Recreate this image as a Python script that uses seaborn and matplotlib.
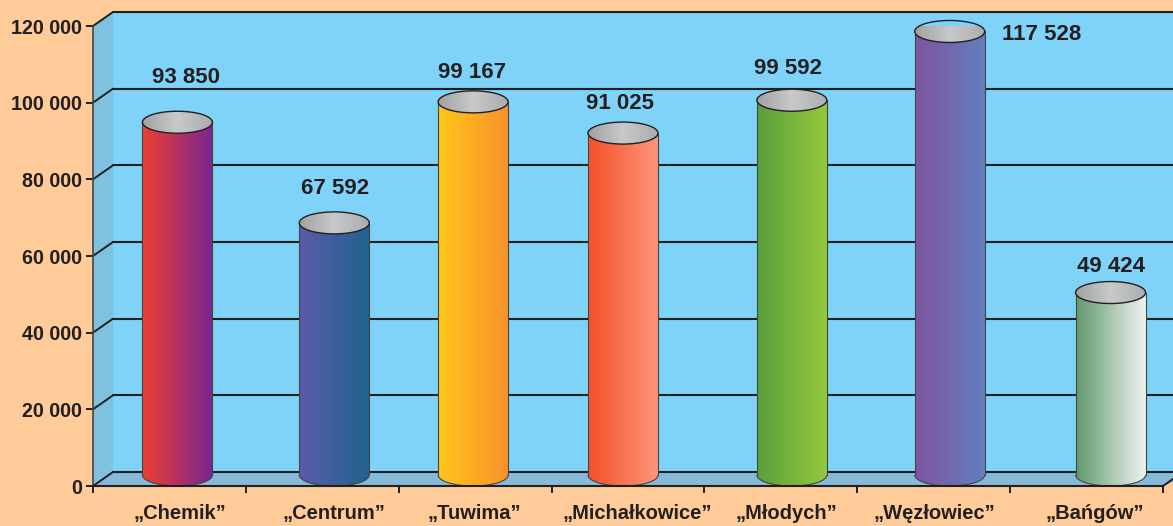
import numpy as np
import seaborn as sns
import matplotlib.pyplot as plt
from matplotlib.colors import LinearSegmentedColormap
from matplotlib.patches import Ellipse, Arc, Polygon
from matplotlib.transforms import Affine2D

# donnees
names = ["„Chemik”", "„Centrum”", "„Tuwima”", "„Michałkowice”", "„Młodych”", "„Węzłowiec”", "„Bańgów”"]
values = [93850, 67592, 99167, 91025, 99592, 117528, 49424]
value_labels = ["93 850", "67 592", "99 167", "91 025", "99 592", "117 528", "49 424"]
y_ticks = [0, 20000, 40000, 60000, 80000, 100000, 120000]
y_tick_labels = ["0", "20 000", "40 000", "60 000", "80 000", "100 000", "120 000"]

# couleurs et decalages (pixels)
gradients = [("#EE4030", "#7A2590"), ("#5B5BA8", "#22628F"), ("#FFC61A", "#F9922B"),
             ("#F4502A", "#FC9678"), ("#5A9E3C", "#95C93D"), ("#7D559F", "#637EBE"),
             ("#62996E", "#EEF3F0")]
bar_shift = [8, 12, -2, -5, 11, 16, 24]
name_shift = [10, 12, -1, 9, 6, 1, 8]
label_dx = [9, 1, -1, -3, -4, 92, 0]
label_dy = [45, 34, 29, 30, 32, -3, 26]

ink = "#231F20"
px_x = 1070 / 7
px_y = 460 / 120000

sns.set_theme(style="white")
plt.rcParams['font.family'] = ['Liberation Sans', 'DejaVu Sans']

fig = plt.figure(figsize=(11.73, 5.26), dpi=100, facecolor="#FFCC99")
ax = fig.add_axes([93 / 1173, 40 / 526, 1070 / 1173, 460 / 526], facecolor="none")

sns.barplot(x=names, y=values, ax=ax, width=70 / px_x, color="white", linewidth=0, zorder=3)
ax.set_xlim(-0.5, 6.5)
ax.set_ylim(0, 120000)

# murs et sol
back = ax.transData + Affine2D().translate(20, 14)
ax.add_patch(Polygon([(-0.5, 0), (6.6, 0), (6.6, 120000), (-0.5, 120000)], transform=back,
                     facecolor="#7FD3F9", edgecolor="none", clip_on=False, zorder=0))
x0 = -0.5
dx = 20 / px_x
dy = 14 / px_y
ax.add_patch(Polygon([(x0, 0), (x0 + dx, dy), (x0 + dx, 120000 + dy), (x0, 120000)],
                     facecolor="#7FC2E0", edgecolor="none", clip_on=False, zorder=0.5))
ax.add_patch(Polygon([(x0, 0), (x0 + dx, dy), (6.6 + dx, dy), (6.5, 0)],
                     facecolor="#85BAD9", edgecolor="none", clip_on=False, zorder=0.5))
for v in y_ticks:
    ax.plot([x0 + dx, 7.0], [v + dy, v + dy], color=ink, lw=1.5, clip_on=False, zorder=1)
    ax.plot([x0, x0 + dx], [v, v + dy], color=ink, lw=1.4, clip_on=False, zorder=1)
ax.plot([6.5, 6.5 + 10 / px_x], [0, 7 / px_y], color=ink, lw=1.4, clip_on=False, zorder=1)

# cylindres
lift_top = 4 / px_y
lift_base = 11 / px_y
cap_h = 22 / px_y
bar_w = 70 / px_x
cap_cmap = LinearSegmentedColormap.from_list("cap", ["#A2A2A2", "#C8C9CB", "#ABADB0"])
ramp = np.linspace(0, 1, 128).reshape(1, -1)

for i, patch in enumerate(ax.patches[:len(values)]):
    xc = i + bar_shift[i] / px_x
    top = values[i] + lift_top
    left, right = xc - bar_w / 2, xc + bar_w / 2
    patch.set_x(left)
    patch.set_y(lift_base)
    patch.set_height(top - lift_base)
    patch.set_facecolor("none")

    cmap = LinearSegmentedColormap.from_list("c%d" % i, gradients[i])
    body = ax.imshow(ramp, cmap=cmap, aspect="auto", extent=(left, right, lift_base, top), zorder=3)
    body.set_clip_path(patch)
    foot = Ellipse((xc, lift_base), bar_w, cap_h, facecolor="none", edgecolor="none", zorder=3)
    ax.add_patch(foot)
    low = ax.imshow(ramp, cmap=cmap, aspect="auto", extent=(left, right, 0, lift_base * 2), zorder=3)
    low.set_clip_path(foot)

    ax.plot([left, left], [lift_base, top], color="#444444", lw=0.8, zorder=4)
    ax.plot([right, right], [lift_base, top], color="#444444", lw=0.8, zorder=4)
    ax.add_patch(Arc((xc, lift_base), bar_w, cap_h, theta1=180, theta2=360, color="#444444", lw=0.8, zorder=4, clip_on=False))

    cap = Ellipse((xc, top), bar_w, cap_h, facecolor="none", edgecolor=ink, lw=1.0, zorder=6, clip_on=False)
    ax.add_patch(cap)
    face = ax.imshow(ramp, cmap=cap_cmap, aspect="auto", extent=(left, right, top - cap_h / 2, top + cap_h / 2), zorder=5)
    face.set_clip_path(cap)

    ax.annotate(value_labels[i], (xc, top), xytext=(label_dx[i], label_dy[i]), textcoords="offset pixels",
                ha="center", va="center", fontsize=16, fontweight="bold", color=ink, zorder=7, annotation_clip=False)

ax.set_xlim(-0.5, 6.5)
ax.set_ylim(0, 120000)

# axes
ax.set_yticks(y_ticks, y_tick_labels)
ax.set_xticks(np.arange(-0.5, 7), [""] * 8)
ax.set_xticks([i + s / px_x for i, s in enumerate(name_shift)], names, minor=True)
ax.tick_params(axis="y", length=5, width=1.4, color=ink, left=True, pad=3, labelsize=14.2, labelcolor=ink)
ax.tick_params(axis="x", which="major", length=5, width=1.4, color=ink, bottom=True)
ax.tick_params(axis="x", which="minor", length=0, pad=13, labelsize=14.5, labelcolor=ink)
for t in ax.get_xticklabels(minor=True) + ax.get_yticklabels():
    t.set_fontweight("bold")
sns.despine(ax=ax)
ax.spines["left"].set(color="#444444", linewidth=1.2)
ax.spines["bottom"].set(color=ink, linewidth=1.5, zorder=8)
ax.set_xlabel("")
ax.set_ylabel("")

fig.savefig("out.png", dpi=100, facecolor=fig.get_facecolor())
